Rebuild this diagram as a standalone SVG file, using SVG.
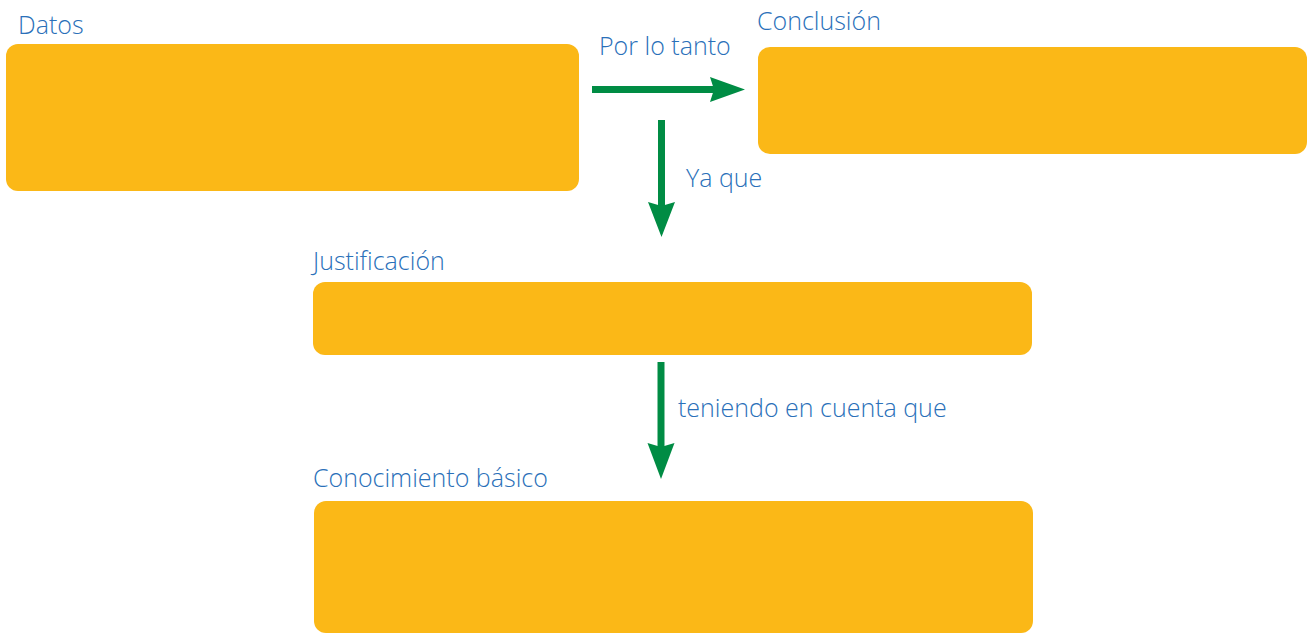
<svg xmlns="http://www.w3.org/2000/svg" width="1308" height="634" viewBox="0 0 1308 634">
<style>
.box{fill:#fbb817}
.lbl{font-family:"Open Sans","Noto Sans",sans-serif;font-weight:300;font-size:25px;fill:#2a70b9}
.conn line{stroke:#008c44;stroke-width:7}
.conn polygon{fill:#008c44}
</style>
<rect width="1308" height="634" fill="#ffffff"/>
<g id="datos">
<rect class="box" x="6" y="44" width="573" height="147" rx="12"/>
<text class="lbl" x="18" y="34">Datos</text>
</g>
<g id="conclusion">
<rect class="box" x="758" y="47" width="549" height="107" rx="12"/>
<text class="lbl" x="757" y="30">Conclusión</text>
</g>
<g id="justificacion">
<rect class="box" x="313" y="282" width="719" height="73" rx="12"/>
<text class="lbl" x="313" y="270">Justificación</text>
</g>
<g id="conocimiento">
<rect class="box" x="314" y="501" width="719" height="132" rx="12"/>
<text class="lbl" x="313" y="487">Conocimiento básico</text>
</g>
<g class="conn" id="connectors">
<line x1="592" y1="89.5" x2="716" y2="89.5"/>
<polygon points="710,77 745,89.5 710,102 714,89.5"/>
<line x1="661.5" y1="120" x2="661.5" y2="209"/>
<polygon points="648,202 661.5,237 675,202 661.5,206"/>
<line x1="661" y1="362" x2="661" y2="450"/>
<polygon points="647.5,443 661,479 674.5,443 661,447"/>
<text class="lbl" x="599" y="55">Por lo tanto</text>
<text class="lbl" x="686" y="187">Ya que</text>
<text class="lbl" x="678" y="417">teniendo en cuenta que</text>
</g>
</svg>
